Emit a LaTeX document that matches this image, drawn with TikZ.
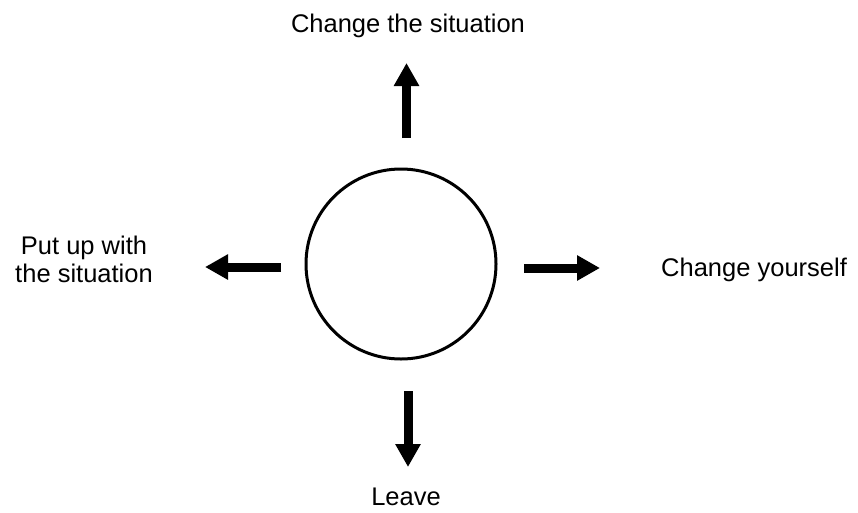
\documentclass[tikz,border=0pt]{standalone}
\usepackage{fontspec}
\setmainfont{Liberation Sans}
\usetikzlibrary{arrows.meta}
\tikzset{
  lbl/.style={inner sep=0pt, font=\fontsize{25.5}{28}\selectfont},
  ring/.style={draw=black, line width=3pt, circle, minimum size=190pt, inner sep=0pt},
  arr/.style={line width=9pt, -{Triangle[width=24pt,length=23pt]}}
}
\begin{document}
\begin{tikzpicture}[x=1pt,y=-1pt]
\useasboundingbox[fill=white] (0,0) rectangle (858,512);
\node[ring] (c) at (401,264) {};
\node[lbl, anchor=base] (top) at (408,32) {Change the situation};
\node[lbl, anchor=base west] (right) at (661,276) {Change yourself};
\node[lbl, anchor=base] (bottom) at (406,505) {Leave};
\node[lbl, align=center, anchor=center] (left) at (84,259.5) {Put up with\\the situation};
\coordinate (u1) at (406.5,138); \coordinate (u2) at (406.5,63);
\coordinate (d1) at (408,391);   \coordinate (d2) at (408,467);
\coordinate (l1) at (281,267);   \coordinate (l2) at (205,267);
\coordinate (r1) at (524,268);   \coordinate (r2) at (600,268);
\draw[arr] (u1) -- (u2);
\draw[arr] (d1) -- (d2);
\draw[arr] (l1) -- (l2);
\draw[arr] (r1) -- (r2);
\end{tikzpicture}
\end{document}
